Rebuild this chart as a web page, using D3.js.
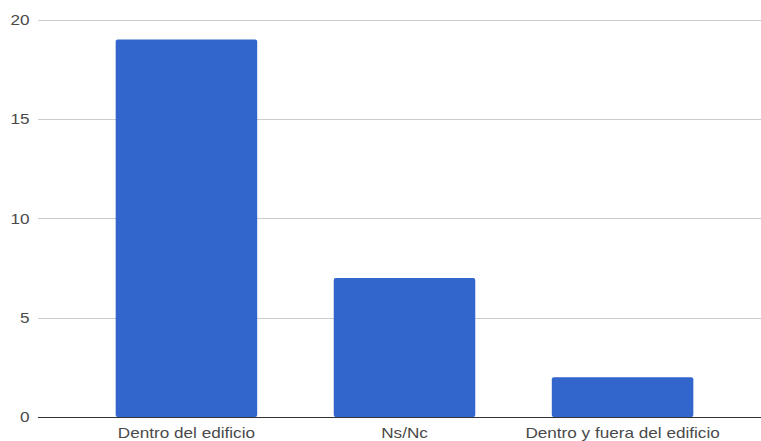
<!DOCTYPE html>
<html>
<head>
<meta charset="utf-8">
<script src="https://cdn.jsdelivr.net/npm/d3@7"></script>
<style>
  html, body { margin: 0; padding: 0; background: #fff; }
  svg { display: block; }
  text { font-family: Arial, "Liberation Sans", sans-serif; }
</style>
</head>
<body>
<svg id="chart" width="761" height="441"></svg>
<script>
const categories = ["Dentro del edificio", "Ns/Nc", "Dentro y fuera del edificio"];
const values = [19, 7, 2];
const yTicks = [0, 5, 10, 15, 20];

const svg = d3.select("#chart");
const gridLeft = 38, gridRight = 761;
const stretch = 1.225;
const y = d3.scaleLinear().domain([0, 20]).range([417, 19.5]);
const x = d3.scaleBand().domain(categories).range([77.5, 731.5])
  .paddingInner(0.351).paddingOuter(0.175);

// gridlines
svg.append("g").selectAll("line").data(yTicks.filter(d => d !== 0)).join("line")
  .attr("x1", gridLeft).attr("x2", gridRight)
  .attr("y1", d => Math.round(y(d)) + 0.5).attr("y2", d => Math.round(y(d)) + 0.5)
  .attr("stroke", "#cccccc").attr("stroke-width", 1);

// y axis labels
const yAxis = d3.axisLeft(y).tickValues(yTicks).tickSize(0).tickPadding(0);
const gy = svg.append("g").attr("transform", "translate(29.5,0)").call(yAxis);
gy.select(".domain").remove();
gy.selectAll("text").attr("font-size", 14).attr("fill", "#4a4a4a")
  .attr("font-family", "Arial, 'Liberation Sans', sans-serif")
  .attr("text-anchor", "end").attr("dy", "0.35em").attr("x", 0)
  .attr("transform", `scale(${stretch},1)`);

// bars
svg.append("g").selectAll("rect").data(categories).join("rect")
  .attr("x", d => x(d))
  .attr("y", (d, i) => y(values[i]))
  .attr("width", x.bandwidth())
  .attr("height", (d, i) => y(0) - y(values[i]))
  .attr("rx", 2).attr("ry", 2)
  .attr("fill", "#3366cc");

// baseline
svg.append("line")
  .attr("x1", gridLeft).attr("x2", gridRight)
  .attr("y1", y(0) + 0.5).attr("y2", y(0) + 0.5)
  .attr("stroke", "#333333").attr("stroke-width", 1);

// x axis labels
const xAxis = d3.axisBottom(x).tickSize(0).tickPadding(0);
const gx = svg.append("g").attr("transform", "translate(0,438)").call(xAxis);
gx.select(".domain").remove();
gx.selectAll("text").attr("font-size", 14).attr("fill", "#4a4a4a")
  .attr("font-family", "Arial, 'Liberation Sans', sans-serif")
  .attr("dy", 0).attr("y", 0)
  .attr("transform", `scale(${stretch},1)`);
</script>
</body>
</html>
